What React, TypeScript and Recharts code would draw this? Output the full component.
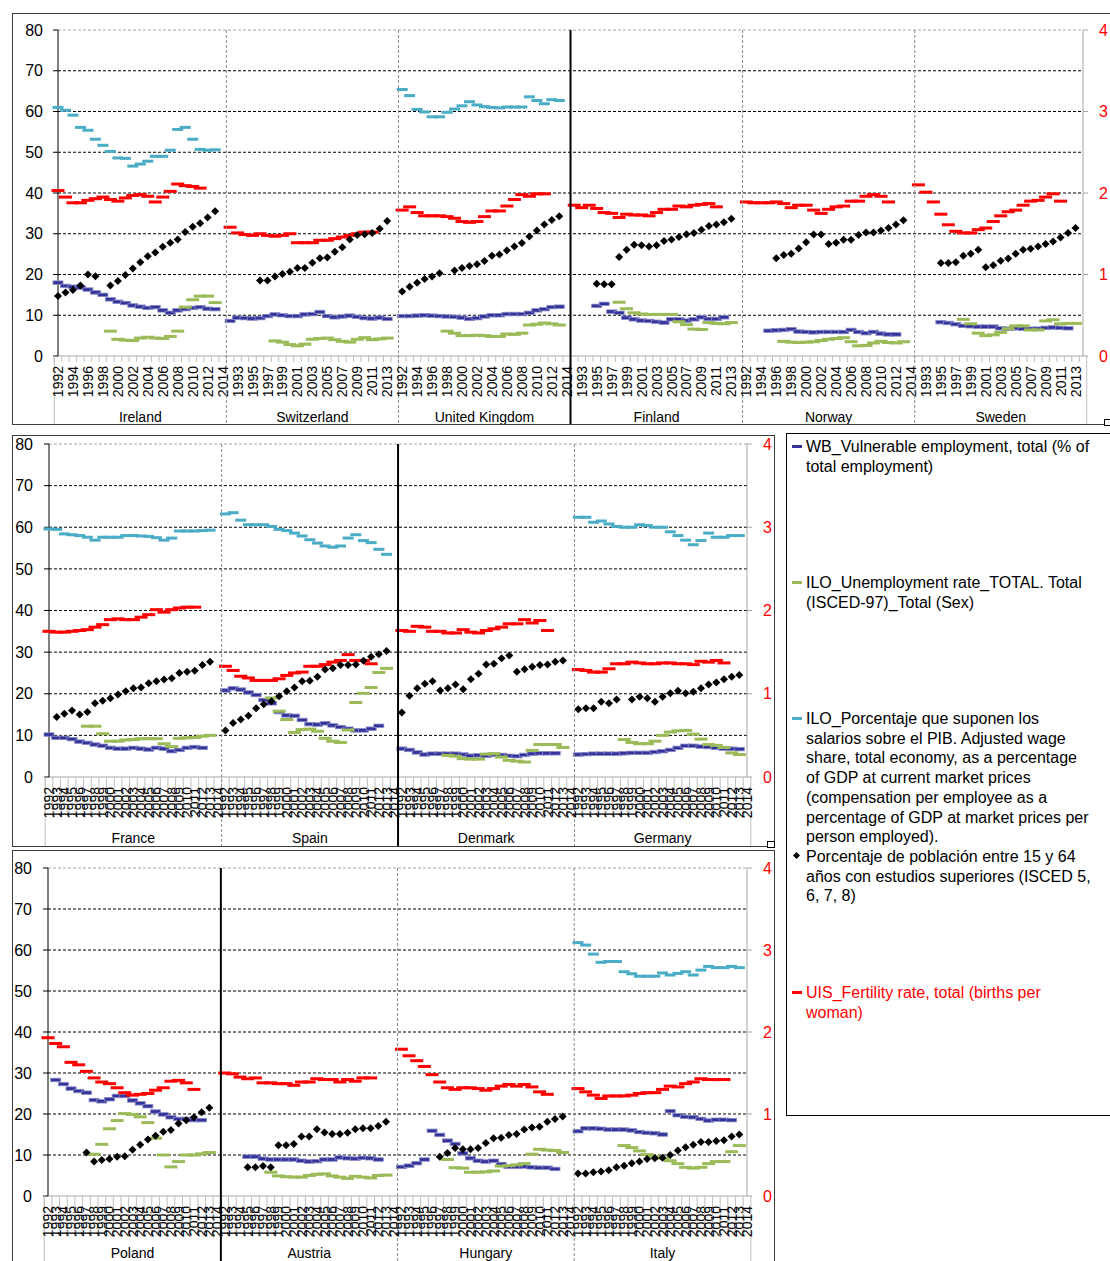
import React from 'react';
import { ComposedChart, Line, XAxis, YAxis, ReferenceLine } from 'recharts';

// ---------- categories ----------
const YEARS = [1992, 1993, 1994, 1995, 1996, 1997, 1998, 1999, 2000, 2001, 2002, 2003, 2004, 2005, 2006, 2007, 2008, 2009, 2010, 2011, 2012, 2013, 2014];
const LEFT_TICKS = [0, 10, 20, 30, 40, 50, 60, 70, 80];
const RIGHT_TICKS = [0, 1, 2, 3, 4];

type Seg = [number, (number | null)[]]; // [first year, values]

// ---------- Panel 1 ----------
const irelandVul: Seg = [1992, [18.0, 17.2, 17.0, 16.8, 16.3, 15.6, 15.0, 13.9, 13.3, 13.0, 12.4, 12.1, 11.8, 12.0, 11.2, 10.6, 11.2, 11.5, 11.8, 12.0, 11.6, 11.5]];
const irelandUne: Seg = [1999, [6.1, 4.1, 3.9, 3.8, 4.4, 4.6, 4.4, 4.3, 4.8, 6.1, 12.0, 13.8, 14.7, 14.7, 13.1]];
const irelandWage: Seg = [1992, [61.0, 60.3, 59.1, 56.1, 55.4, 53.2, 51.7, 50.2, 48.6, 48.5, 46.6, 47.1, 47.8, 49.0, 49.0, 50.5, 55.6, 56.1, 53.2, 50.7, 50.5, 50.6]];
const irelandEdu: Seg = [1992, [14.7, 15.6, 16.2, 17.3, 20.0, 19.6, null, 17.3, 18.4, 19.9, 21.5, 23.0, 24.5, 25.4, 26.8, 27.8, 28.6, 30.4, 31.7, 32.6, 34.0, 35.5]];
const irelandFert: Seg = [1992, [2.03, 1.95, 1.88, 1.88, 1.91, 1.93, 1.95, 1.92, 1.90, 1.94, 1.97, 1.98, 1.96, 1.89, 1.95, 2.02, 2.11, 2.09, 2.08, 2.06]];

const switzerlandVul: Seg = [1992, [8.6, 9.4, 9.3, 9.2, 9.3, 9.8, 10.2, 10.0, 9.8, 9.8, 10.2, 10.3, 10.8, 9.8, 9.5, 9.7, 9.9, 9.6, 9.3, 9.2, 9.4, 9.1]];
const switzerlandUne: Seg = [1998, [3.7, 3.4, 2.8, 2.5, 2.9, 4.1, 4.3, 4.4, 4.0, 3.6, 3.4, 4.1, 4.5, 4.0, 4.2, 4.4]];
const switzerlandEdu: Seg = [1996, [18.5, 18.5, 19.5, 20.1, 20.7, 21.6, 21.6, 22.9, 24.0, 24.2, 25.6, 26.7, 28.6, 29.7, 29.9, 30.2, 31.2, 33.1]];
const switzerlandFert: Seg = [1992, [1.58, 1.51, 1.49, 1.48, 1.50, 1.48, 1.47, 1.48, 1.50, 1.39, 1.39, 1.39, 1.42, 1.42, 1.44, 1.46, 1.48, 1.50, 1.52, 1.52]];

const ukVul: Seg = [1992, [9.8, 9.8, 9.9, 10.0, 9.9, 9.8, 9.7, 9.6, 9.4, 9.1, 9.3, 9.7, 10.0, 10.0, 10.3, 10.3, 10.3, 10.6, 11.2, 11.5, 12.0, 12.1]];
const ukUne: Seg = [1998, [6.1, 5.6, 5.0, 5.0, 5.1, 5.0, 4.8, 4.8, 5.4, 5.3, 5.6, 7.6, 7.8, 8.1, 7.9, 7.6]];
const ukWage: Seg = [1992, [65.4, 63.9, 60.5, 59.9, 58.7, 58.7, 59.8, 60.6, 61.4, 62.4, 61.6, 61.2, 61.0, 60.9, 61.1, 61.1, 61.1, 63.6, 62.7, 61.9, 62.9, 62.7]];
const ukEdu: Seg = [1992, [15.8, 17.0, 18.0, 18.9, 19.5, 20.3, null, 21.0, 21.6, 22.1, 22.5, 23.3, 24.6, 24.9, 25.9, 26.9, 27.7, 29.3, 30.8, 32.3, 33.4, 34.3]];
const ukFert: Seg = [1992, [1.79, 1.83, 1.76, 1.72, 1.72, 1.72, 1.71, 1.69, 1.65, 1.64, 1.65, 1.71, 1.78, 1.78, 1.84, 1.92, 1.98, 1.96, 1.99, 1.99]];

const finlandVul: Seg = [1995, [12.3, 12.8, 10.9, 10.6, 9.4, 9.0, 8.7, 8.6, 8.4, 8.2, 9.0, 9.0, 8.7, 9.0, 9.5, 9.1, 9.1, 9.5]];
const finlandUne: Seg = [1998, [13.2, 11.6, 10.6, 10.3, 10.2, 10.2, 10.2, 10.2, 8.4, 7.7, 6.6, 6.5, 8.2, 8.0, 7.9, 8.2]];
const finlandEdu: Seg = [1995, [17.7, 17.6, 17.6, 24.3, 26.1, 27.3, 27.2, 26.9, 27.2, 28.2, 28.6, 29.2, 29.9, 30.2, 31.0, 31.9, 32.3, 32.8, 33.7]];
const finlandFert: Seg = [1992, [1.85, 1.82, 1.85, 1.81, 1.76, 1.75, 1.70, 1.74, 1.73, 1.73, 1.72, 1.76, 1.80, 1.80, 1.84, 1.83, 1.85, 1.86, 1.87, 1.83]];

const norwayVul: Seg = [1995, [6.2, 6.3, 6.4, 6.6, 6.0, 5.9, 5.8, 5.9, 5.9, 5.9, 5.9, 6.4, 5.9, 5.6, 5.9, 5.5, 5.3, 5.3]];
const norwayUne: Seg = [1997, [3.6, 3.4, 3.3, 3.4, 3.5, 3.8, 4.1, 4.3, 4.5, 3.5, 2.5, 2.6, 3.2, 3.6, 3.3, 3.2, 3.5]];
const norwayEdu: Seg = [1996, [24.0, 24.8, 25.1, 26.4, 27.9, 29.8, 29.8, 27.5, 27.8, 28.5, 28.5, 29.7, 30.3, 30.3, 30.8, 31.4, 32.3, 33.3]];
const norwayFert: Seg = [1992, [1.89, 1.88, 1.88, 1.88, 1.89, 1.87, 1.82, 1.85, 1.85, 1.79, 1.75, 1.80, 1.83, 1.84, 1.90, 1.90, 1.96, 1.98, 1.96, 1.89]];

const swedenVul: Seg = [1995, [8.3, 8.1, 7.8, 7.4, 7.3, 7.2, 7.2, 7.2, 6.8, 6.7, 6.8, 6.7, 6.7, 6.7, 6.9, 7.0, 6.9, 6.8]];
const swedenUne: Seg = [1998, [9.0, 7.9, 5.6, 5.0, 5.2, 5.8, 6.7, 7.4, 7.4, 6.4, 6.4, 8.6, 8.9, 7.9, 8.0, 8.0]];
const swedenEdu: Seg = [1995, [22.8, 22.8, 23.0, 24.6, 25.1, 26.1, 21.8, 22.3, 23.4, 23.9, 25.1, 26.1, 26.3, 26.9, 27.5, 28.1, 29.1, 30.2, 31.4]];
const swedenFert: Seg = [1992, [2.10, 2.01, 1.89, 1.74, 1.61, 1.53, 1.51, 1.51, 1.55, 1.57, 1.65, 1.72, 1.77, 1.79, 1.85, 1.90, 1.91, 1.95, 1.99, 1.90]];

// ---------- Panel 2 ----------
const franceVul: Seg = [1992, [10.2, 9.4, 9.4, 9.1, 8.5, 8.2, 7.8, 7.5, 7.0, 6.8, 6.8, 7.0, 6.8, 6.6, 7.0, 6.8, 6.2, 6.5, 7.0, 7.2, 7.0]];
const franceUne: Seg = [1997, [12.2, 12.2, 10.4, 8.6, 8.6, 8.9, 9.0, 9.2, 9.2, 9.2, 8.0, 7.3, 9.3, 9.4, 9.5, 9.8, 10.0]];
const franceWage: Seg = [1992, [59.6, 59.5, 58.4, 58.2, 58.0, 57.6, 56.9, 57.6, 57.6, 57.6, 58.0, 58.0, 57.9, 57.8, 57.5, 56.9, 57.4, 59.1, 59.1, 59.1, 59.2, 59.3]];
const franceEdu: Seg = [1993, [14.4, 15.2, 16.0, 15.0, 15.6, 17.7, 18.3, 18.9, 19.8, 20.6, 21.3, 21.5, 22.5, 23.0, 23.4, 23.7, 25.0, 25.3, 25.5, 26.9, 27.7]];
const franceFert: Seg = [1992, [1.75, 1.74, 1.74, 1.75, 1.76, 1.77, 1.80, 1.83, 1.89, 1.90, 1.89, 1.89, 1.92, 1.95, 2.01, 1.98, 2.01, 2.03, 2.04, 2.04]];

const spainVul: Seg = [1992, [20.8, 21.3, 21.0, 20.3, 19.7, 18.5, 17.7, 15.6, 14.8, 14.7, 13.7, 12.7, 12.6, 12.9, 12.4, 12.0, 11.6, 11.2, 11.2, 11.6, 12.3]];
const spainUne: Seg = [1998, [19.0, 15.8, 13.8, 10.7, 11.4, 11.5, 11.0, 9.3, 8.6, 8.3, 11.3, 17.9, 20.1, 21.5, 25.1, 26.1]];
const spainWage: Seg = [1992, [63.2, 63.5, 61.7, 60.6, 60.6, 60.6, 60.2, 59.5, 59.2, 58.6, 57.9, 57.0, 56.2, 55.5, 55.2, 55.5, 57.4, 58.2, 56.8, 56.3, 54.7, 53.5]];
const spainEdu: Seg = [1992, [11.2, 13.0, 13.8, 14.7, 16.5, 17.5, 18.2, 19.4, 20.6, 21.5, 23.0, 23.1, 24.1, 25.8, 26.1, 26.9, 26.9, 27.0, 27.9, 28.9, 29.5, 30.3]];
const spainFert: Seg = [1992, [1.33, 1.28, 1.21, 1.19, 1.16, 1.16, 1.16, 1.18, 1.22, 1.25, 1.26, 1.33, 1.33, 1.35, 1.38, 1.40, 1.47, 1.40, 1.40, 1.36]];

const denmarkVul: Seg = [1992, [6.8, 6.5, 5.9, 5.4, 5.6, 5.6, 5.6, 5.6, 5.4, 5.1, 5.2, 5.1, 5.3, 5.3, 5.1, 5.0, 5.3, 5.6, 5.7, 5.7, 5.7]];
const denmarkUne: Seg = [1998, [5.2, 5.0, 4.4, 4.3, 4.3, 5.5, 5.6, 4.8, 4.0, 3.8, 3.6, 6.4, 7.8, 7.8, 7.8, 7.1]];
const denmarkEdu: Seg = [1992, [15.5, 19.5, 21.3, 22.4, 23.0, 20.8, 21.3, 22.2, 21.1, 23.5, 24.8, 27.0, 27.2, 28.5, 29.2, 25.3, 25.9, 26.5, 26.9, 27.0, 27.7, 28.0]];
const denmarkFert: Seg = [1992, [1.76, 1.75, 1.81, 1.80, 1.75, 1.75, 1.73, 1.73, 1.77, 1.74, 1.73, 1.76, 1.78, 1.80, 1.84, 1.84, 1.89, 1.85, 1.88, 1.76]];

const germanyVul: Seg = [1992, [5.4, 5.5, 5.6, 5.6, 5.6, 5.6, 5.7, 5.8, 5.8, 5.8, 6.0, 6.2, 6.5, 7.0, 7.5, 7.5, 7.3, 7.2, 7.0, 6.8, 6.8, 6.7]];
const germanyUne: Seg = [1998, [9.0, 8.3, 8.0, 8.0, 8.6, 10.0, 10.8, 11.1, 11.2, 10.3, 9.1, 7.8, 7.6, 7.1, 5.8, 5.4]];
const germanyWage: Seg = [1992, [62.4, 62.4, 61.2, 61.5, 60.8, 60.2, 60.0, 60.0, 60.6, 60.4, 60.0, 60.0, 58.9, 58.0, 56.9, 55.8, 56.8, 58.6, 57.6, 57.6, 58.0, 58.0]];
const germanyEdu: Seg = [1992, [16.3, 16.5, 16.5, 18.1, 17.7, 18.6, null, 18.6, 19.3, 18.9, 18.1, 19.3, 20.1, 20.7, 20.1, 20.5, 21.3, 22.2, 22.7, 23.5, 24.1, 24.5]];
const germanyFert: Seg = [1992, [1.29, 1.28, 1.26, 1.26, 1.30, 1.36, 1.36, 1.38, 1.37, 1.36, 1.36, 1.37, 1.37, 1.36, 1.36, 1.35, 1.39, 1.38, 1.40, 1.37]];

// ---------- Panel 3 ----------
const polandVul: Seg = [1993, [28.3, 27.3, 26.2, 25.6, 25.2, 23.4, 23.1, 23.6, 24.4, 24.4, 23.3, 22.6, 21.9, 20.6, 19.9, 19.2, 18.8, 18.8, 18.5, 18.5]];
const polandUne: Seg = [1998, [10.2, 12.6, 16.4, 18.4, 20.1, 19.9, 19.3, 17.9, 14.1, 10.0, 7.1, 8.4, 10.0, 10.0, 10.3, 10.6]];
const polandEdu: Seg = [1997, [10.6, 8.4, 8.8, 9.0, 9.6, 9.7, 11.3, 12.5, 13.8, 14.7, 15.7, 16.1, 17.7, 18.5, 19.2, 20.4, 21.5]];
const polandFert: Seg = [1992, [1.93, 1.86, 1.82, 1.63, 1.60, 1.52, 1.44, 1.39, 1.37, 1.32, 1.26, 1.23, 1.24, 1.25, 1.29, 1.32, 1.40, 1.41, 1.38, 1.30]];

const austriaVul: Seg = [1995, [9.6, 9.6, 9.1, 8.9, 8.9, 8.9, 8.9, 8.6, 8.4, 8.5, 8.9, 8.9, 9.4, 9.2, 9.1, 9.3, 9.2, 8.9]];
const austriaUne: Seg = [1998, [5.8, 4.9, 4.7, 4.6, 4.6, 5.0, 5.3, 5.4, 4.9, 4.6, 4.3, 4.8, 4.6, 4.4, 5.0, 5.1]];
const austriaEdu: Seg = [1995, [7.0, 7.0, 7.3, 7.0, 12.4, 12.4, 12.7, 14.5, 14.5, 16.3, 15.5, 15.1, 15.1, 15.4, 16.3, 16.5, 16.5, 17.1, 18.1]];
const austriaFert: Seg = [1992, [1.50, 1.49, 1.45, 1.43, 1.44, 1.38, 1.38, 1.37, 1.37, 1.35, 1.39, 1.39, 1.43, 1.42, 1.42, 1.39, 1.42, 1.40, 1.44, 1.44]];

const hungaryVul: Seg = [1992, [7.1, 7.4, 8.0, 8.9, 15.9, 14.9, 13.5, 12.7, 10.4, 9.2, 8.6, 8.4, 8.6, 7.8, 7.1, 7.1, 7.2, 7.0, 6.9, 6.9, 6.6]];
const hungaryUne: Seg = [1998, [8.9, 6.9, 6.8, 5.8, 5.8, 5.9, 6.1, 7.3, 7.4, 7.6, 7.9, 10.2, 11.4, 11.2, 11.1, 10.6]];
const hungaryEdu: Seg = [1997, [9.6, 10.5, 11.7, 11.4, 11.4, 11.7, 12.9, 14.1, 14.2, 14.9, 15.1, 16.2, 16.7, 16.9, 18.1, 18.8, 19.4]];
const hungaryFert: Seg = [1992, [1.79, 1.71, 1.65, 1.58, 1.48, 1.39, 1.32, 1.30, 1.32, 1.32, 1.31, 1.29, 1.31, 1.34, 1.36, 1.34, 1.36, 1.33, 1.27, 1.24]];

const italyVul: Seg = [1992, [15.8, 16.5, 16.5, 16.4, 16.2, 16.2, 16.2, 16.0, 15.6, 15.4, 15.3, 15.0, 20.7, 19.7, 19.3, 19.2, 18.8, 18.4, 18.6, 18.6, 18.5]];
const italyUne: Seg = [1998, [12.3, 11.8, 11.0, 10.1, 9.6, 9.2, 8.6, 7.9, 7.0, 6.8, 7.0, 7.9, 8.4, 8.4, 10.8, 12.3]];
const italyWage: Seg = [1992, [61.8, 61.2, 59.0, 57.0, 57.2, 57.2, 54.7, 54.2, 53.6, 53.6, 53.6, 54.4, 53.9, 54.3, 54.7, 53.9, 55.1, 56.0, 55.7, 55.7, 56.0, 55.7]];
const italyEdu: Seg = [1992, [5.5, 5.5, 5.8, 6.0, 6.3, 7.0, 7.4, 8.0, 8.4, 9.0, 9.2, 9.3, 10.0, 11.1, 11.9, 12.5, 13.2, 13.2, 13.4, 13.6, 14.5, 15.0]];
const italyFert: Seg = [1992, [1.31, 1.27, 1.23, 1.19, 1.22, 1.22, 1.22, 1.23, 1.25, 1.26, 1.26, 1.30, 1.34, 1.33, 1.37, 1.39, 1.43, 1.42, 1.42, 1.42]];

type Country = { name: string; vul: Seg | null; une: Seg | null; wage: Seg | null; edu: Seg | null; fert: Seg | null };

const PANEL1: Country[] = [
  { name: 'Ireland', vul: irelandVul, une: irelandUne, wage: irelandWage, edu: irelandEdu, fert: irelandFert },
  { name: 'Switzerland', vul: switzerlandVul, une: switzerlandUne, wage: null, edu: switzerlandEdu, fert: switzerlandFert },
  { name: 'United Kingdom', vul: ukVul, une: ukUne, wage: ukWage, edu: ukEdu, fert: ukFert },
  { name: 'Finland', vul: finlandVul, une: finlandUne, wage: null, edu: finlandEdu, fert: finlandFert },
  { name: 'Norway', vul: norwayVul, une: norwayUne, wage: null, edu: norwayEdu, fert: norwayFert },
  { name: 'Sweden', vul: swedenVul, une: swedenUne, wage: null, edu: swedenEdu, fert: swedenFert },
];
const PANEL2: Country[] = [
  { name: 'France', vul: franceVul, une: franceUne, wage: franceWage, edu: franceEdu, fert: franceFert },
  { name: 'Spain', vul: spainVul, une: spainUne, wage: spainWage, edu: spainEdu, fert: spainFert },
  { name: 'Denmark', vul: denmarkVul, une: denmarkUne, wage: null, edu: denmarkEdu, fert: denmarkFert },
  { name: 'Germany', vul: germanyVul, une: germanyUne, wage: germanyWage, edu: germanyEdu, fert: germanyFert },
];
const PANEL3: Country[] = [
  { name: 'Poland', vul: polandVul, une: polandUne, wage: null, edu: polandEdu, fert: polandFert },
  { name: 'Austria', vul: austriaVul, une: austriaUne, wage: null, edu: austriaEdu, fert: austriaFert },
  { name: 'Hungary', vul: hungaryVul, une: hungaryUne, wage: null, edu: hungaryEdu, fert: hungaryFert },
  { name: 'Italy', vul: italyVul, une: italyUne, wage: italyWage, edu: italyEdu, fert: italyFert },
];

// ---------- table builder ----------
function place(seg: Seg | null): (number | null)[] {
  const out: (number | null)[] = YEARS.map(() => null);
  if (seg) {
    seg[1].forEach((v, i) => {
      const k = seg[0] - YEARS[0] + i;
      if (k >= 0 && k < out.length) out[k] = v;
    });
  }
  return out;
}

function buildRows(list: Country[]) {
  const rows: any[] = [];
  list.forEach((c) => {
    const v = place(c.vul), u = place(c.une), w = place(c.wage), e = place(c.edu), f = place(c.fert);
    YEARS.forEach((y, i) => {
      rows.push({ key: `${c.name}|${y}`, vul: v[i], une: u[i], wage: w[i], edu: e[i], fert: f[i] });
    });
  });
  return rows;
}

// ---------- styles ----------
const FONT = "'Liberation Sans', Arial, Helvetica, sans-serif";
const C_VUL = '#333399';
const C_UNE = '#9bbb59';
const C_WAGE = '#4bacc6';
const C_FERT = '#ff0000';
const C_EDU = '#000000';

const ok = (p: any) => p && Number.isFinite(p.cx) && Number.isFinite(p.cy) && p.value != null;

const dash = (color: string, w: number, h: number, halo?: string) => (p: any) => {
  if (!ok(p)) return <g key={`n${p.index}`} />;
  return (
    <rect
      key={`d${p.index}`}
      x={p.cx - w / 2}
      y={p.cy - h / 2}
      width={w}
      height={h}
      fill={color}
      stroke={halo || 'none'}
      strokeWidth={halo ? 0.8 : 0}
    />
  );
};
const diamond = (p: any) => {
  if (!ok(p)) return <g key={`n${p.index}`} />;
  const s = 4;
  return (
    <polygon
      key={`m${p.index}`}
      points={`${p.cx},${p.cy - s} ${p.cx + s},${p.cy} ${p.cx},${p.cy + s} ${p.cx - s},${p.cy}`}
      fill={C_EDU}
    />
  );
};

type Cfg = {
  left: number; top0: number; width: number; height: number; mTop: number;
  yLeftW: number; yRightW: number; yearH: number; countryH: number; countryBase: number;
  every: number; tickLen: number; thick: number[]; lMargin: number; rMargin: number;
};

const CFG1: Cfg = { left: 12, top0: 13, width: 1100, height: 412, mTop: 17, yLeftW: 46, yRightW: 29, yearH: 44, countryH: 25, countryBase: 22, every: 2, tickLen: 6, thick: [3], lMargin: 10, rMargin: 11 };
const CFG2: Cfg = { left: 12, top0: 435, width: 763, height: 412, mTop: 9, yLeftW: 37, yRightW: 28, yearH: 44, countryH: 26, countryBase: 22, every: 1, tickLen: 40, thick: [2], lMargin: 11, rMargin: 11 };
const CFG3: Cfg = { left: 12, top0: 850, width: 763, height: 416, mTop: 18, yLeftW: 36, yRightW: 28, yearH: 44, countryH: 26, countryBase: 18, every: 1, tickLen: 40, thick: [1], lMargin: 11, rMargin: 11 };

function Panel({ cfg, countries }: { cfg: Cfg; countries: Country[] }) {
  const rows = buildRows(countries);
  const N = rows.length;
  const G = YEARS.length;
  const plotW = cfg.width - cfg.yLeftW - cfg.yRightW;
  const plotH = cfg.height - cfg.mTop - cfg.yearH - cfg.countryH;
  const bw = plotW / N;
  const ext = cfg.yearH + cfg.countryH + 4;

  const renderTick = (p: any) => {
    const x = p.x, y = p.y;
    const i = typeof p.index === 'number' ? p.index : p.payload?.index ?? 0;
    const val: string = String(p.payload?.value ?? '');
    const [country, year] = val.split('|');
    const xl = x - bw / 2;
    const g = Math.floor(i / G), k = i % G;
    const els: any[] = [];
    els.push(<line key="t" x1={xl} x2={xl} y1={y} y2={y + cfg.tickLen} stroke="#bfbfbf" strokeWidth={1} />);
    if (k === 0) {
      if (g === 0) {
        els.push(<line key="s" x1={xl} x2={xl} y1={y} y2={y + ext} stroke="#bfbfbf" strokeWidth={1} />);
      } else if (cfg.thick.includes(g)) {
        els.push(<line key="s" x1={xl} x2={xl} y1={y - plotH} y2={y + ext} stroke="#000" strokeWidth={2} />);
      } else {
        els.push(<line key="s" x1={xl} x2={xl} y1={y - plotH} y2={y + ext} stroke="#8c8c8c" strokeWidth={1} strokeDasharray="3 2" />);
      }
    }
    if (i === N - 1) {
      els.push(<line key="r" x1={x + bw / 2} x2={x + bw / 2} y1={y} y2={y + ext} stroke="#bfbfbf" strokeWidth={1} />);
    }
    if (i % cfg.every === 0) {
      els.push(
        <text key="y" x={x} y={y + 10} dy="0.36em" transform={`rotate(-90 ${x} ${y + 10})`} textAnchor="end" fontSize={14} fill="#000" fontFamily={FONT}>
          {year}
        </text>
      );
    }
    if (k === 11) {
      els.push(
        <text key="c" x={x} y={y + cfg.yearH + cfg.countryBase} textAnchor="middle" fontSize={14} fill="#000" fontFamily={FONT}>
          {country}
        </text>
      );
    }
    return <g key={`tick-${i}`}>{els}</g>;
  };

  return (
    <div style={{ position: 'absolute', left: cfg.left, top: cfg.top0, width: cfg.width, height: cfg.height }}>
      <ComposedChart width={cfg.width} height={cfg.height} data={rows} margin={{ top: cfg.mTop, right: 0, bottom: 0, left: 0 }}>
        <XAxis
          xAxisId="x"
          dataKey="key"
          type="category"
          interval={0}
          minTickGap={0}
          height={cfg.yearH + cfg.countryH}
          tickSize={0}
          tickMargin={0}
          tickLine={false}
          axisLine={{ stroke: '#a6a6a6' }}
          tick={renderTick}
        />
        <YAxis
          yAxisId="left"
          orientation="left"
          domain={[0, 80]}
          ticks={LEFT_TICKS}
          interval={0}
          width={cfg.yLeftW}
          tickSize={5}
          tickMargin={cfg.lMargin}
          axisLine={{ stroke: '#000' }}
          tickLine={{ stroke: '#000' }}
          tick={{ fontSize: 16, fill: '#000', fontFamily: FONT }}
        />
        <YAxis
          yAxisId="right"
          orientation="right"
          domain={[0, 4]}
          ticks={RIGHT_TICKS}
          interval={0}
          width={cfg.yRightW}
          tickSize={5}
          tickMargin={cfg.rMargin}
          axisLine={{ stroke: '#a6a6a6' }}
          tickLine={{ stroke: '#a6a6a6' }}
          tick={{ fontSize: 16, fill: '#ff0000', fontFamily: FONT }}
        />
        {LEFT_TICKS.filter((v) => v > 0).map((v) => (
          <ReferenceLine key={`g${v}`} xAxisId="x" yAxisId="left" y={v} stroke={v === 80 ? '#a6a6a6' : '#000'} strokeWidth={1} strokeDasharray="3 2" />
        ))}
        <Line xAxisId="x" yAxisId="left" dataKey="wage" stroke="none" dot={dash(C_WAGE, 11, 3)} activeDot={false} isAnimationActive={false} legendType="none" />
        <Line xAxisId="x" yAxisId="left" dataKey="vul" stroke="none" dot={dash(C_VUL, 10, 3.5, '#8a8ac8')} activeDot={false} isAnimationActive={false} legendType="none" />
        <Line xAxisId="x" yAxisId="left" dataKey="une" stroke="none" dot={dash(C_UNE, 13, 3)} activeDot={false} isAnimationActive={false} legendType="none" />
        <Line xAxisId="x" yAxisId="right" dataKey="fert" stroke="none" dot={dash(C_FERT, 13, 3)} activeDot={false} isAnimationActive={false} legendType="none" />
        <Line xAxisId="x" yAxisId="left" dataKey="edu" stroke="none" dot={diamond} activeDot={false} isAnimationActive={false} legendType="none" />
      </ComposedChart>
    </div>
  );
}

function Border({ left, top, width, height }: { left: number; top: number; width: number; height: number }) {
  return <div style={{ position: 'absolute', left, top, width, height, border: '1px solid #3c3c3c', boxSizing: 'border-box', pointerEvents: 'none' }} />;
}

const LEGEND_ITEMS = [
  { top: 436, color: C_VUL, marker: 'dash', lines: ['WB_Vulnerable employment, total (% of', 'total employment)'], textColor: '#000' },
  { top: 572, color: C_UNE, marker: 'dash', lines: ['ILO_Unemployment rate_TOTAL. Total', '(ISCED-97)_Total (Sex)'], textColor: '#000' },
  {
    top: 708, color: C_WAGE, marker: 'dash',
    lines: ['ILO_Porcentaje que suponen los', 'salarios sobre el PIB. Adjusted wage', 'share, total economy, as a percentage', 'of GDP at current market prices', '(compensation per employee as a', 'percentage of GDP at market prices per', 'person employed).'],
    textColor: '#000',
  },
  { top: 846, color: C_EDU, marker: 'diamond', lines: ['Porcentaje de población entre 15 y 64', 'años con estudios superiores (ISCED 5,', '6, 7, 8)'], textColor: '#000' },
  { top: 982, color: C_FERT, marker: 'dash', lines: ['UIS_Fertility rate, total (births per', 'woman)'], textColor: '#ff0000' },
];

function LegendBox() {
  return (
    <div style={{ position: 'absolute', left: 786, top: 433, width: 340, height: 683, border: '1px solid #000', boxSizing: 'border-box' }}>
      {LEGEND_ITEMS.map((it, n) => (
        <div key={n} style={{ position: 'absolute', left: 0, top: it.top - 433, width: 340 }}>
          {it.marker === 'dash' ? (
            <div style={{ position: 'absolute', left: 5, top: 8, width: 10, height: 3, background: it.color }} />
          ) : (
            <div style={{ position: 'absolute', left: 7, top: 6, width: 5, height: 5, background: it.color, transform: 'rotate(45deg)' }} />
          )}
          <div style={{ position: 'absolute', left: 19, top: 0, fontSize: 16, lineHeight: '19.7px', color: it.textColor, whiteSpace: 'nowrap', fontFamily: FONT }}>
            {it.lines.map((l, j) => (
              <div key={j}>{l}</div>
            ))}
          </div>
        </div>
      ))}
    </div>
  );
}

export default function App() {
  return (
    <div style={{ position: 'absolute', left: 0, top: 0, width: 1110, height: 1261, overflow: 'hidden', background: '#fff', fontFamily: FONT }}>
      <Panel cfg={CFG1} countries={PANEL1} />
      <Panel cfg={CFG2} countries={PANEL2} />
      <Panel cfg={CFG3} countries={PANEL3} />
      <Border left={12} top={13} width={1110} height={412} />
      <Border left={12} top={435} width={763} height={412} />
      <Border left={12} top={850} width={763} height={430} />
      <div style={{ position: 'absolute', left: 1104, top: 419, width: 6, height: 5, border: '1px solid #000', background: '#fff' }} />
      <div style={{ position: 'absolute', left: 767, top: 841, width: 6, height: 5, border: '1px solid #000', background: '#fff' }} />
      <LegendBox />
    </div>
  );
}
